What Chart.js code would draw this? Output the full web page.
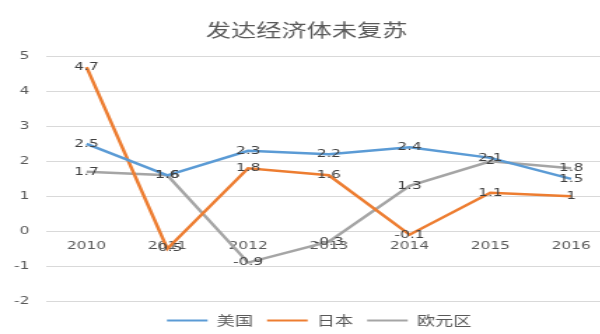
<!DOCTYPE html>
<html>
<head>
<meta charset="utf-8">
<script src="https://cdn.jsdelivr.net/npm/chart.js@4.4.1/dist/chart.umd.min.js"></script>
<style>
  html, body { margin: 0; padding: 0; background: #fff; overflow: hidden; }
  /* the chart is drawn narrow and widened horizontally */
  #wrap { width: 438px; height: 334px; transform: scaleX(1.4); transform-origin: 0 0; }
</style>
</head>
<body>
<div id="wrap"><canvas id="growth"></canvas></div>
<script>
// GDP growth (%), 2010-2016
const years = ['2010', '2011', '2012', '2013', '2014', '2015', '2016'];
const usGrowth = [2.5, 1.6, 2.3, 2.2, 2.4, 2.1, 1.5];
const japanGrowth = [4.7, -0.5, 1.8, 1.6, -0.1, 1.1, 1];
const euroGrowth = [1.7, 1.6, -0.9, -0.3, 1.3, 2, 1.8];
const yMin = -2, yMax = 5, yStep = 1;

const numFont = '"DejaVu Sans", sans-serif';
const cjkFont = '"Noto Sans CJK SC", sans-serif';

// writes each value centred on its point
const pointValueLabels = {
  id: 'pointValueLabels',
  afterDatasetsDraw(chart) {
    const ctx = chart.ctx;
    ctx.save();
    ctx.font = '11px ' + numFont;
    ctx.fillStyle = '#404040';
    ctx.textAlign = 'center';
    ctx.textBaseline = 'middle';
    chart.data.datasets.forEach((ds, i) => {
      const meta = chart.getDatasetMeta(i);
      if (meta.hidden) return;
      meta.data.forEach((pt, j) => {
        ctx.fillText(String(ds.data[j]), pt.x, pt.y);
      });
    });
    ctx.restore();
  }
};

// nudges the legend row a little to the right and down
const legendNudge = {
  id: 'legendNudge',
  afterLayout(chart) {
    const lg = chart.legend;
    if (!lg) return;
    lg.left += 9; lg.right += 9;
    lg.top += 3; lg.bottom += 3;
  }
};

function series(label, data, color) {
  return {
    label, data,
    borderColor: color,
    backgroundColor: color,
    borderWidth: 2.5,
    pointRadius: 0,
    pointHoverRadius: 0,
    tension: 0,
    fill: false
  };
}

new Chart(document.getElementById('growth'), {
  type: 'line',
  data: {
    labels: years,
    datasets: [
      series('美国', usGrowth, '#5B9BD5'),
      series('日本', japanGrowth, '#ED7D31'),
      series('欧元区', euroGrowth, '#A5A5A5')
    ]
  },
  options: {
    responsive: true,
    maintainAspectRatio: false,
    animation: false,
    layout: { padding: { left: 0, right: 0, top: 0, bottom: 0 } },
    plugins: {
      title: {
        display: true,
        text: '发达经济体未复苏',
        color: '#595959',
        font: { family: cjkFont, size: 18, weight: 'normal' },
        padding: { top: 19, bottom: 16 }
      },
      legend: {
        position: 'bottom',
        labels: {
          color: '#595959',
          font: { family: cjkFont, size: 13 },
          boxWidth: 29,
          boxHeight: 2,
          padding: 10,
          generateLabels(chart) {
            return Chart.defaults.plugins.legend.labels.generateLabels(chart)
              .map(l => Object.assign(l, { lineWidth: 0, fillStyle: l.strokeStyle }));
          }
        }
      },
      tooltip: { enabled: false }
    },
    scales: {
      x: {
        position: { y: 0 },
        offset: true,
        grid: { display: false },
        border: { display: true, color: '#d9d9d9', width: 1 },
        ticks: { color: '#595959', font: { family: numFont, size: 11 }, padding: 0, maxRotation: 0 }
      },
      y: {
        min: yMin,
        max: yMax,
        grid: { color: '#d9d9d9', lineWidth: 1, drawTicks: false },
        border: { display: false },
        ticks: { stepSize: yStep, color: '#595959', font: { family: numFont, size: 11 }, padding: 12 },
        afterFit(scale) { scale.width = 33; }
      }
    }
  },
  plugins: [pointValueLabels, legendNudge]
});
</script>
</body>
</html>
